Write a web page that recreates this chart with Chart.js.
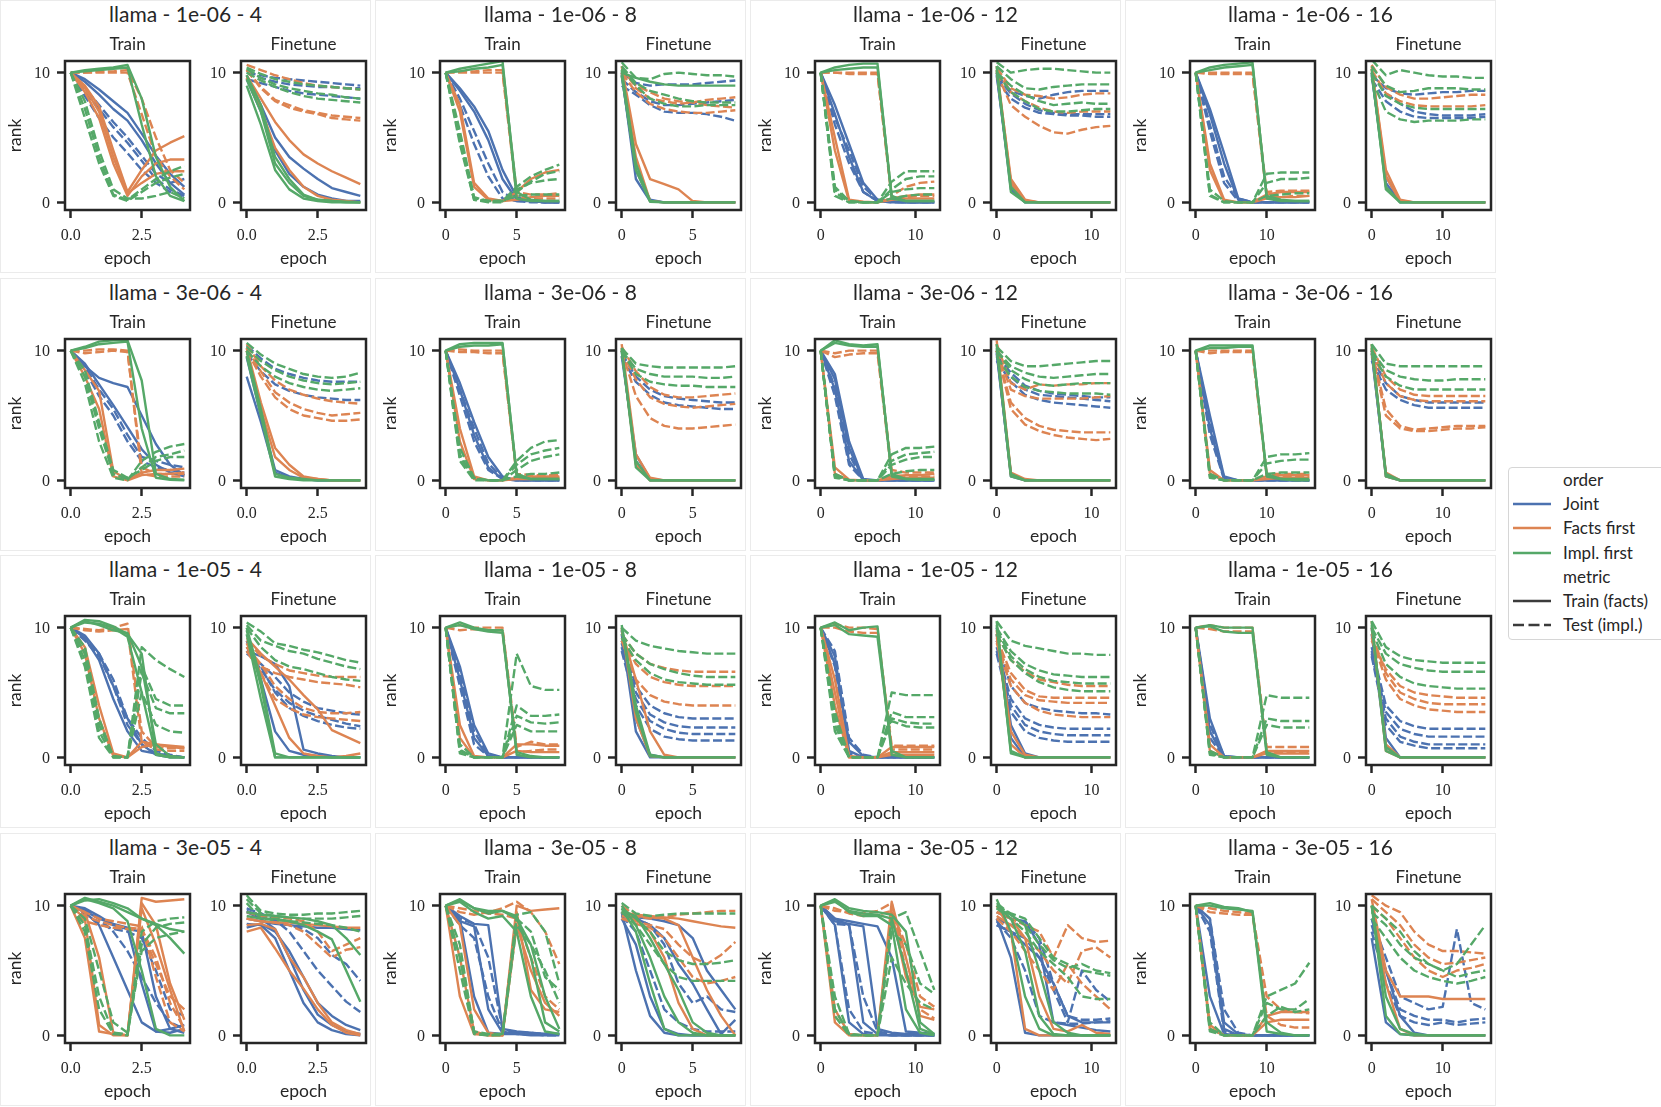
<!DOCTYPE html>
<html>
<head>
<meta charset="utf-8">
<title>llama rank curves</title>
<script src="https://cdn.jsdelivr.net/npm/chart.js@4.4.1/dist/chart.umd.min.js"></script>
<style>
  body { margin: 0; background: #fff; }
  #fig { position: relative; width: 1661px; height: 1107px; overflow: hidden; font-family: Lato, 'Noto Sans', sans-serif; color: #262626; }
  .panel { position: absolute; width: 371px; height: 273px; border: 1px solid #ebebeb; box-sizing: border-box; }
  .ptitle { position: absolute; width: 371px; text-align: center; font-size: 21px; line-height: 28px; }
  canvas { position: absolute; }
  #legend { position: absolute; left: 1508px; top: 467px; width: 170px; height: 173px; border: 1px solid #d6d6d6; border-radius: 4px; box-sizing: border-box; background: #fff; }
  .lrow { position: absolute; left: 0; height: 22px; font-size: 17px; line-height: 22px; white-space: nowrap; }
  .lrow svg { position: absolute; left: 4px; top: 8px; }
  .lrow span { position: absolute; left: 54px; }
</style>
</head>
<body>
<div id="fig"></div>
<script>
const model = 'llama';
const learningRates = ['1e-06', '3e-06', '1e-05', '3e-05'];
const epochCounts = [4, 8, 12, 16];
const orders = ['Joint', 'Facts first', 'Impl. first'];
const metrics = ['Train (facts)', 'Test (impl.)'];
const phases = ['Train', 'Finetune'];

const xTicks4 = [0, 2.5];
const xTicks8 = [0, 5];
const xTicks12 = [0, 10];
const xTicks16 = [0, 10];
const yTickVals = [0, 10];

// each run is evaluated 9 times, at step k * epochs / 8
const evalSteps = [0, 1, 2, 3, 4, 5, 6, 7, 8];

// rank per run, grouped as
// [Joint train, Joint test, Facts first train, Facts first test, Impl. first train, Impl. first test]
const tr_1e06_4 = [
  [[10,9.5,8.7,7.8,6.9,5.3,3.6,2.2,1.2],[10,9.3,8.3,7.2,6.3,4.8,3.0,1.5,0.6]],
  [[10,8.5,7.2,5.8,4.6,3.2,1.8,1.0,0.5],[10,8.2,6.5,5.0,3.8,2.5,1.5,0.8,0.4],[10,8.8,7.5,6.2,5.0,3.6,2.2,1.5,1.8]],
  [[10,9.0,7.4,4.0,0.8,2.5,4.0,4.6,5.1],[10,8.5,6.5,3.0,0.5,2.0,3.0,3.3,3.3],[10,8.8,7.0,3.5,0.7,1.5,2.2,2.4,2.4]],
  [[10,10,10.1,10.1,10.2,8.0,5.0,2.5,1.5],[10,10,10,10,10,6.8,3.5,2.0,1.0]],
  [[10,10.2,10.3,10.4,10.6,8.0,3.5,1.2,0.1],[10,10.1,10.2,10.3,10.4,6.0,2.0,0.5,0.1]],
  [[10,7.2,3.5,0.6,0.2,1.0,1.8,2.4,2.8],[10,6.5,3.0,0.5,0.1,0.8,1.5,1.9,2.2],[10,7.8,4.0,1.0,0.3,0.3,0.5,0.8,0.3]]
];
const ft_1e06_4 = [
  [[9.8,7.5,5.0,3.5,2.6,1.8,1.1,0.8,0.5],[9.5,7.0,4.0,2.2,1.2,0.6,0.3,0.1,0.1]],
  [[10,9.8,9.6,9.5,9.4,9.3,9.2,9.1,9.0],[9.5,9.2,8.9,8.6,8.4,8.3,8.2,8.1,8.0],[10.2,9.6,9.3,9.1,9.0,8.9,8.9,8.8,8.8]],
  [[9.8,8.0,6.2,4.8,3.7,3.0,2.4,1.9,1.4],[9.6,7.2,4.2,2.5,1.2,0.5,0.2,0.1,0]],
  [[10.6,10.2,9.8,9.5,9.2,9.0,8.9,8.8,8.7],[10.2,8.8,7.8,7.3,7.0,6.8,6.5,6.4,6.3],[10.2,8.9,7.9,7.5,7.1,6.9,6.7,6.6,6.5]],
  [[9.5,7.0,3.0,1.5,0.5,0.2,0.1,0.05,0],[9.0,6.0,2.5,1.0,0.3,0.1,0,0,0],[9.8,7.5,3.5,1.8,0.6,0.2,0.1,0,0]],
  [[10.3,9.6,9.1,8.8,8.6,8.4,8.3,8.1,8.0],[10,9.4,8.9,8.5,8.2,8.0,7.9,7.8,7.7],[10.4,9.9,9.5,9.3,9.1,9.0,8.9,8.8,8.7]]
];
const tr_1e06_8 = [
  [[10,8.6,7.0,4.8,1.8,0.2,0.1,0,0],[10,8.8,7.4,5.5,2.5,0.4,0.1,0,0]],
  [[10,7.5,4.5,2.0,0.3,0.1,0.1,0,0],[10,8.0,5.5,3.0,0.8,0.1,0,0,0]],
  [[10,7.0,1.2,0.2,0.1,0.8,1.8,2.3,2.5],[10,7.5,1.5,0.3,0.1,0.2,0.4,0.5,0.5]],
  [[10,10,10,10,10,0.5,0.3,0.3,0.3],[10,10.1,10.1,10.2,10.2,0.8,0.6,0.6,0.7]],
  [[10,10.3,10.5,10.7,10.9,0.3,0.1,0.1,0.1],[10,10.1,10.3,10.4,10.6,0.8,0.2,0.1,0.1]],
  [[10,5.0,0.3,0.1,0.1,1.2,2.0,2.5,2.9],[10,4.5,0.2,0,0,1.0,1.5,1.7,1.8],[10,5.5,0.4,0.1,0.1,0.5,0.6,0.6,0.6],[10,4.8,0.2,0.1,0.1,0.8,1.6,2.2,2.4]]
];
const ft_1e06_8 = [
  [[10,1.8,0.1,0,0,0,0,0,0],[9.8,2.5,0.2,0,0,0,0,0,0]],
  [[10,9.2,9.0,9.1,9.1,9.1,9.2,9.3,9.4],[9.0,8.3,7.5,7.0,6.9,6.9,6.8,6.6,6.3],[9.5,8.5,7.8,7.5,7.5,7.6,7.7,7.8,7.9]],
  [[10.5,4.5,1.8,1.4,1.0,0.1,0,0,0],[10,3.5,0.1,0,0,0,0,0,0]],
  [[10.5,8.8,8.0,7.8,7.6,7.7,7.9,8.0,8.1],[10,8.5,7.6,7.2,7.0,6.9,6.9,7.0,7.1],[10.2,9.0,8.5,8.0,7.8,7.7,7.5,7.4,7.3]],
  [[10.2,3.0,0.1,0,0,0,0,0,0],[9.8,2.5,0.05,0,0,0,0,0,0],[10,9.6,9.3,9.1,9.0,9.0,9.0,9.0,9.0]],
  [[10.8,9.6,9.5,9.9,10.0,9.9,9.8,9.8,9.7],[10.3,9.0,8.0,7.6,7.4,7.4,7.5,7.5,7.5],[10.5,9.2,8.6,8.3,8.0,7.8,7.7,7.7,7.7]]
];
const tr_1e06_12 = [
  [[10,7.5,4.5,1.5,0.2,0.1,0,0,0],[10,6.8,3.5,0.8,0.1,0,0,0,0]],
  [[10,6.0,3.0,0.8,0.1,0,0,0,0],[10,6.5,4.0,1.2,0.2,0.05,0,0,0]],
  [[10,5.0,0.2,0.05,0,0.3,0.5,0.6,0.6],[10,4.0,0.1,0,0,0.2,0.3,0.3,0.3]],
  [[10,10,10,10,10,0.5,1.2,1.5,1.6],[10,10,9.9,9.9,9.9,0.3,0.4,0.5,0.5]],
  [[10,10.4,10.6,10.7,10.7,0.3,0.1,0.1,0.1],[10,10.2,10.3,10.4,10.4,0.5,0.1,0.1,0.1]],
  [[10,0.8,0,0,0,1.6,2.4,2.4,2.4],[10,1.2,0.1,0,0,1.0,1.8,2.0,2.0],[10,0.5,0,0,0,0.8,1.0,1.1,1.1],[10,1.0,0.1,0,0,0.3,0.5,0.6,0.6]]
];
const ft_1e06_12 = [
  [[10,1.0,0,0,0,0,0,0,0],[9.8,1.5,0.1,0,0,0,0,0,0]],
  [[9.8,8.6,8.2,8.0,8.3,8.5,8.6,8.6,8.6],[9.5,8.0,7.3,6.9,6.8,6.7,6.7,6.6,6.6],[9.7,8.4,7.6,7.1,6.9,6.8,6.8,6.8,6.8]],
  [[10.5,1.5,0.1,0,0,0,0,0,0],[10.2,1.8,0.2,0,0,0,0,0,0]],
  [[10.4,8.8,8.3,8.2,8.0,8.1,8.3,8.4,8.4],[10.2,8.5,7.8,7.3,7.0,6.9,7.0,7.0,7.0],[10,7.5,6.6,5.9,5.4,5.3,5.6,5.8,5.9]],
  [[10.2,1.2,0,0,0,0,0,0,0],[10.5,0.8,0,0,0,0,0,0,0]],
  [[10.8,10.0,10.2,10.3,10.3,10.2,10.1,10.0,10.0],[10.5,9.5,8.8,8.7,8.9,9.0,9.1,9.1,9.1],[10,9.0,8.3,7.8,7.5,7.6,7.7,7.6,7.6],[10,8.5,7.8,7.2,7.0,7.0,7.1,7.2,7.2]]
];
const tr_1e06_16 = [
  [[10,7.2,3.8,0.3,0,0,0,0,0],[10,6.8,3.0,0.2,0,0,0,0,0]],
  [[10,6.0,2.0,0.3,0,0,0,0,0],[10,5.5,1.5,0.1,0,0,0,0,0]],
  [[10,3.0,0.2,0,0,0.6,0.8,0.8,0.8],[10,2.5,0.1,0,0,0.3,0.4,0.4,0.5]],
  [[10,10,10,10,10,0.8,0.9,0.9,0.9],[10,9.9,9.9,9.9,9.9,0.4,0.4,0.5,0.5]],
  [[10,10.4,10.6,10.7,10.8,0.3,0.1,0.1,0.1],[10,10.2,10.4,10.5,10.6,0.5,0.2,0.1,0.1]],
  [[10,0.5,0,0,0,2.2,2.3,2.3,2.3],[10,1.0,0.1,0,0,1.5,1.8,1.8,1.9],[10,0.6,0,0,0,0.5,0.6,0.7,0.7]]
];
const ft_1e06_16 = [
  [[10,1.5,0,0,0,0,0,0,0],[9.8,2.0,0.1,0,0,0,0,0,0]],
  [[10,8.4,7.6,7.0,6.8,6.7,6.7,6.7,6.8],[9.8,8.8,8.4,8.3,8.4,8.5,8.5,8.6,8.6],[9.5,7.8,7.0,6.6,6.5,6.5,6.5,6.5,6.6]],
  [[10.5,2.0,0.1,0,0,0,0,0,0],[10.3,2.5,0.2,0,0,0,0,0,0]],
  [[10.6,8.9,8.3,8.0,8.0,8.1,8.2,8.3,8.3],[10.2,8.4,7.8,7.5,7.4,7.4,7.4,7.4,7.5]],
  [[10.3,1.0,0,0,0,0,0,0,0],[10,1.2,0,0,0,0,0,0,0]],
  [[11,9.8,10.2,10.0,9.8,9.7,9.7,9.6,9.6],[10.5,9.0,8.5,8.6,8.8,8.8,8.8,8.7,8.7],[10,8.2,7.6,7.3,7.2,7.2,7.2,7.2,7.2],[9.5,7.0,6.4,6.2,6.3,6.3,6.3,6.4,6.4]]
];

const tr_3e06_4 = [
  [[10,8.8,7.9,7.5,7.2,5.0,2.8,1.2,0.4],[10,9.0,7.4,5.8,4.1,2.4,1.2,0.6,0.3]],
  [[10,8.8,7.0,5.5,3.5,1.8,1.5,1.2,1.0],[10,8.5,6.5,5.0,3.0,1.5,1.0,0.8,0.6]],
  [[10,8.5,6.9,0.7,0.05,0.6,0.8,0.8,0.9],[10,8.0,5.5,0.3,0,0.4,0.5,0.5,0.6]],
  [[10,10,10.1,10.1,10,0.5,0.3,0.3,0.3],[10,9.8,9.9,10,9.9,1.0,0.5,0.5,0.5]],
  [[10,10.3,10.7,10.8,10.8,7.7,0.5,0.1,0.05],[10,10.2,10.5,10.6,10.7,4.0,0.2,0.05,0]],
  [[10,7.5,3.0,0.2,0,1.5,2.2,2.6,2.8],[10,8.0,4.0,0.5,0.1,1.0,1.8,2.0,2.3],[10,8.5,4.5,0.8,0.2,0.8,1.5,1.8,1.8]]
];
const ft_3e06_4 = [
  [[8.0,4.5,0.6,0.2,0.1,0,0,0,0],[9.5,5.0,0.8,0.3,0.1,0,0,0,0]],
  [[10.4,9.4,8.6,8.2,7.9,7.7,7.6,7.6,7.6],[9.8,8.4,7.4,6.9,6.6,6.4,6.3,6.2,6.2]],
  [[10.2,6.0,2.5,1.2,0.3,0.1,0,0,0],[10,5.5,1.8,0.8,0.2,0.1,0,0,0]],
  [[10.5,8.8,7.7,7.0,6.6,6.3,6.1,6.0,5.9],[10.2,8.4,6.8,6.0,5.5,5.2,5.0,5.1,5.2],[10,8.0,6.4,5.5,5.0,4.8,4.6,4.6,4.7]],
  [[10,5.5,0.5,0.2,0.1,0,0,0,0],[9.6,5.0,0.3,0.1,0,0,0,0,0]],
  [[10.6,9.7,9.0,8.6,8.2,8.0,7.9,8.0,8.3],[10.3,9.2,8.5,8.0,7.7,7.5,7.4,7.5,7.6],[10,8.8,8.0,7.5,7.2,7.0,6.9,7.0,7.1]]
];
const tr_3e06_8 = [
  [[10,7.0,3.5,1.0,0.1,0,0,0,0],[10,7.5,4.5,1.8,0.3,0,0,0,0]],
  [[10,6.5,3.0,0.8,0.1,0,0,0,0],[10,7.0,4.0,1.3,0.2,0,0,0,0]],
  [[10,3.0,0.1,0,0,0.2,0.3,0.3,0.3],[10,4.0,0.3,0,0,0.1,0.1,0.2,0.2]],
  [[10,10.1,10,10,10,0.3,0.2,0.2,0.2],[10,9.9,9.9,9.8,9.8,0.5,0.4,0.4,0.4]],
  [[10,10.5,10.6,10.6,10.6,0.3,0.1,0.1,0.1],[10,10.3,10.4,10.4,10.5,0.5,0.1,0.1,0.1]],
  [[10,2.0,0.1,0,0,1.5,2.5,3.0,3.1],[10,2.5,0.2,0,0,1.2,2.0,2.3,2.5],[10,1.5,0,0,0,0.8,1.5,1.8,2.0],[10,1.8,0.1,0,0,0.3,0.5,0.5,0.6]]
];
const ft_3e06_8 = [
  [[10,1.5,0,0,0,0,0,0,0],[9.6,2.0,0.1,0,0,0,0,0,0]],
  [[9.8,8.0,7.0,6.5,6.3,6.2,6.1,6.0,6.0],[9.5,7.6,6.6,6.0,5.8,5.7,5.6,5.5,5.5]],
  [[10.5,2.0,0.2,0,0,0,0,0,0],[10.2,1.2,0,0,0,0,0,0,0]],
  [[10.3,8.4,7.2,6.6,6.4,6.4,6.5,6.6,6.7],[10,7.8,6.4,5.9,5.7,5.6,5.7,5.8,5.9],[10,6.5,4.8,4.2,4.0,4.0,4.1,4.2,4.3]],
  [[10.2,1.0,0,0,0,0,0,0,0],[10,1.5,0,0,0,0,0,0,0]],
  [[10.2,9.0,8.8,8.7,8.7,8.7,8.7,8.7,8.8],[10,8.6,8.2,8.0,8.0,8.0,7.9,7.9,8.0],[10,8.2,7.6,7.4,7.3,7.3,7.2,7.2,7.2]]
];
const tr_3e06_12 = [
  [[10,7.8,2.5,0,0,0,0,0,0],[10,7.0,1.5,0,0,0,0,0,0],[10,8.2,3.0,0.1,0,0,0,0,0]],
  [[10,6.5,1.2,0,0,0,0,0,0],[10,7.2,2.0,0,0,0,0,0,0]],
  [[10,0.5,0,0,0,0.3,0.4,0.4,0.5],[10,1.0,0.05,0,0,0.1,0.2,0.2,0.2]],
  [[10,9.8,10,10,10,0.8,0.6,0.6,0.6],[10,9.5,9.7,9.8,9.8,0.4,0.3,0.3,0.3]],
  [[10,10.8,10.5,10.4,10.5,0.3,0.1,0.1,0.1],[10,10.6,10.4,10.3,10.3,0.5,0.1,0.05,0.05]],
  [[10,0.2,0,0,0,2.0,2.5,2.5,2.6],[10,0.5,0,0,0,1.5,2.0,2.1,2.2],[10,0.3,0,0,0,1.2,1.6,1.8,1.8],[10,0.4,0,0,0,0.5,0.7,0.8,0.8]]
];
const ft_3e06_12 = [
  [[10,0.3,0,0,0,0,0,0,0],[9.8,0.5,0,0,0,0,0,0,0]],
  [[9.5,8.0,7.0,6.6,6.5,6.4,6.3,6.2,6.1],[9.2,7.6,6.6,6.2,6.0,5.9,5.8,5.7,5.6],[9.6,8.3,7.3,6.9,6.7,6.6,6.5,6.4,6.4]],
  [[10.8,0.6,0.1,0,0,0,0,0,0],[10.5,0.4,0,0,0,0,0,0,0]],
  [[10.5,7.5,7.0,7.4,7.3,7.4,7.4,7.5,7.5],[10,7.0,6.5,6.3,6.3,6.3,6.3,6.4,6.5],[10,6.0,4.8,4.2,3.9,3.8,3.7,3.7,3.7],[10,5.5,4.3,3.8,3.5,3.3,3.2,3.1,3.2]],
  [[10.5,0.5,0,0,0,0,0,0,0],[10.2,0.3,0,0,0,0,0,0,0]],
  [[10.3,9.2,8.8,8.8,8.9,9.0,9.1,9.2,9.2],[10,8.8,8.3,8.0,7.9,8.0,8.1,8.2,8.2],[10,8.5,7.8,7.4,7.3,7.4,7.5,7.5,7.5],[9.5,8.0,7.2,6.9,6.8,6.7,6.7,6.7,6.6]]
];
const tr_3e06_16 = [
  [[10,4.0,0.1,0,0,0,0,0,0],[10,5.0,0.3,0,0,0,0,0,0]],
  [[10,3.5,0.1,0,0,0,0,0,0],[10,4.5,0.2,0,0,0,0,0,0]],
  [[10,0.5,0,0,0,0.3,0.4,0.4,0.4],[10,0.8,0,0,0,0.1,0.2,0.2,0.2]],
  [[10,10,10,10,10,0.5,0.5,0.5,0.5],[10,9.8,9.9,9.9,9.9,0.3,0.3,0.3,0.3]],
  [[10,10.4,10.4,10.4,10.4,0.3,0.1,0.1,0.1],[10,10.2,10.2,10.3,10.3,0.5,0.1,0,0]],
  [[10,0.3,0,0,0,1.8,2.0,2.0,2.1],[10,0.5,0,0,0,1.3,1.5,1.6,1.6],[10,0.2,0,0,0,0.5,0.6,0.6,0.6]]
];
const ft_3e06_16 = [
  [[10,0.3,0,0,0,0,0,0,0],[9.8,0.5,0,0,0,0,0,0,0]],
  [[9.5,7.5,6.5,6.2,6.0,6.0,6.0,6.0,6.0],[9.2,7.0,6.2,5.8,5.6,5.6,5.6,5.6,5.6]],
  [[10.5,0.3,0,0,0,0,0,0,0],[10.2,0.6,0,0,0,0,0,0,0]],
  [[10.3,8.0,7.0,6.6,6.5,6.5,6.5,6.5,6.5],[10,7.5,6.5,6.2,6.1,6.1,6.1,6.1,6.1],[10,5.5,4.2,3.9,4.0,4.1,4.2,4.2,4.2],[9.8,5.0,4.0,3.8,3.8,3.9,4.0,4.0,4.1]],
  [[10.5,0.3,0,0,0,0,0,0,0],[10.2,0.5,0,0,0,0,0,0,0]],
  [[10.5,9.0,8.8,8.8,8.8,8.8,8.8,8.8,8.8],[10,8.5,8.0,7.8,7.7,7.7,7.8,7.8,7.8],[9.8,8.0,7.3,7.0,7.0,7.0,7.0,7.0,7.0]]
];

const tr_1e05_4 = [
  [[10,9.4,8.0,5.5,3.0,1.0,0.2,0,0],[10,9.2,7.5,4.5,2.0,0.5,0.3,0.1,0]],
  [[10,9.0,7.8,5.5,2.5,1.0,0.3,0.1,0],[10,9.2,8.0,6.0,3.0,1.5,0.5,0.2,0]],
  [[10,8.5,4.0,0.3,0,0.8,1.0,0.9,0.8],[10,8.0,3.0,0.1,0,1.2,1.0,0.8,0.7]],
  [[10,9.9,9.8,10.0,10.3,2.0,0.8,0.7,0.7],[10,9.8,9.7,9.8,9.9,1.2,0.6,0.5,0.5]],
  [[10,10.6,10.5,10.1,9.5,8.0,0.3,0,0],[10,10.4,10.3,10.0,9.3,5.0,0.2,0,0],[10,10.5,10.2,9.8,9.6,7.0,1.0,0.1,0]],
  [[10,8.5,3.0,0,0,8.5,7.5,6.8,6.2],[10,8.0,2.5,0.1,0,7.0,4.5,4.0,4.0],[10,7.5,2.0,0,0,6.5,3.8,3.4,3.4],[10,7.0,1.5,0,0,5.0,2.5,2.0,1.9]]
];
const ft_1e05_4 = [
  [[8.2,7.8,7.2,5.5,0.6,0.3,0.1,0,0],[9.0,6.0,2.0,0.5,0.2,0.1,0,0,0]],
  [[8.0,7.2,6.2,5.0,4.3,3.8,3.6,3.4,3.3],[8.2,6.8,5.2,4.2,3.6,3.2,2.9,2.6,2.4],[8.5,7.0,5.0,3.8,3.2,2.8,2.5,2.3,2.2]],
  [[9.2,8.0,7.0,6.0,4.8,3.7,2.1,1.6,1.1],[8.8,6.5,4.0,1.5,0.3,0.1,0,0.1,0.3]],
  [[9.0,7.8,7.2,6.7,6.5,6.3,6.2,6.2,6.2],[8.5,7.0,6.5,6.2,6.0,5.8,5.7,5.6,5.4],[8.5,7.2,5.5,4.5,3.8,3.5,3.4,3.4,3.5],[8.2,6.5,4.5,3.8,3.3,3.1,3.0,2.9,2.8]],
  [[9.8,5.5,0,0,0,0,0,0,0],[9.5,4.5,0,0,0,0,0,0,0],[10,6.0,0.3,0,0,0,0,0,0]],
  [[10.4,9.7,8.8,8.6,8.3,8.1,7.8,7.5,7.3],[10.2,9.0,8.6,8.2,8.0,7.6,7.3,7.0,6.8],[10,8.5,7.5,7.0,6.8,6.5,6.2,6.0,5.9]]
];
const tr_1e05_8 = [
  [[10,6.0,1.5,0.1,0,0,0,0,0],[10,7.0,2.5,0.3,0,0,0,0,0]],
  [[10,5.5,1.0,0.1,0,0,0,0,0],[10,6.5,2.0,0.2,0,0,0,0,0]],
  [[10,1.5,0,0,0,1.0,1.0,0.9,0.9],[10,2.5,0.1,0,0,0.5,0.4,0.4,0.4]],
  [[10,10.2,10,10,10,0.8,1.2,1.0,1.0],[10,9.8,9.9,9.8,9.8,0.4,0.5,0.6,0.6]],
  [[10,10.4,10,9.8,9.8,0.2,0,0,0],[10,10.2,9.9,9.7,9.6,0.4,0.1,0,0]],
  [[10,0.5,0,0,0,8.0,5.5,5.2,5.2],[10,1.0,0,0,0,4.0,3.2,3.2,3.3],[10,0.3,0,0,0,3.2,2.7,2.6,2.7],[10,0.6,0,0,0,2.5,2.0,2.0,2.0]]
];
const ft_1e05_8 = [
  [[9.5,2.0,0,0,0,0,0,0,0],[9.8,3.0,0.2,0,0,0,0,0,0]],
  [[9.0,5.5,4.0,3.4,3.1,3.0,3.0,3.0,3.0],[8.8,5.0,3.3,2.7,2.4,2.3,2.3,2.3,2.3],[8.5,4.5,2.8,2.2,1.9,1.8,1.8,1.8,1.8],[8.2,4.0,2.2,1.6,1.4,1.3,1.3,1.3,1.3]],
  [[10,3.0,0.1,0,0,0,0,0,0],[9.8,6.0,2.0,0.2,0,0,0,0,0]],
  [[9.5,8.0,7.2,6.9,6.7,6.6,6.6,6.6,6.6],[9.2,7.2,6.2,5.8,5.6,5.5,5.5,5.5,5.5],[9.0,6.0,4.8,4.3,4.1,4.0,4.0,4.0,4.0]],
  [[10.2,4.0,0.2,0,0,0,0,0,0],[10,3.5,0.1,0,0,0,0,0,0]],
  [[10,9.0,8.6,8.4,8.2,8.1,8.0,8.0,8.0],[9.5,8.0,7.2,6.8,6.5,6.3,6.2,6.2,6.2],[9.2,7.5,6.5,6.0,5.8,5.7,5.6,5.6,5.6]]
];
const tr_1e05_12 = [
  [[10,7.8,0.5,0,0,0,0,0,0],[10,7.2,1.2,0.1,0,0,0,0,0]],
  [[10,7.0,0.3,0,0,0,0,0,0],[10,8.2,1.5,0.2,0,0,0,0,0]],
  [[10,5.0,0,0,0,0.8,0.8,0.8,0.8],[10,4.0,0,0,0,0.4,0.4,0.4,0.4],[10,6.0,0.1,0,0,0.2,0.2,0.2,0.2]],
  [[10,10.3,10.0,10.0,9.9,0.6,0.6,0.6,0.6],[10,10.0,9.7,9.6,9.6,0.9,0.9,0.9,0.9]],
  [[10,10.4,9.8,10.0,10.1,0.2,0,0,0],[10,10.2,9.5,9.4,9.3,0.5,0,0,0]],
  [[10,3.0,0,0,0,5.0,4.8,4.8,4.8],[10,2.5,0,0,0,3.5,3.1,3.1,3.1],[10,2.0,0,0,0,3.0,2.7,2.6,2.6],[10,3.5,0,0,0,2.8,2.4,2.3,2.3]]
];
const ft_1e05_12 = [
  [[10,2.5,0.3,0,0,0,0,0,0],[9.5,1.5,0,0,0,0,0,0,0]],
  [[9.0,5.5,4.2,3.8,3.6,3.5,3.4,3.4,3.3],[8.5,4.5,3.0,2.5,2.3,2.2,2.2,2.2,2.2],[8.2,4.0,2.5,2.0,1.8,1.7,1.7,1.7,1.7],[8.0,3.5,2.0,1.5,1.3,1.2,1.2,1.2,1.2]],
  [[9.8,2.0,0.2,0,0,0,0,0,0],[9.5,1.0,0,0,0,0,0,0,0]],
  [[9.5,7.5,6.6,6.0,5.8,5.6,5.5,5.5,5.5],[9.2,6.5,5.2,4.7,4.6,4.6,4.6,4.6,4.6],[9.0,6.0,4.8,4.4,4.3,4.2,4.2,4.2,4.2],[8.8,5.5,4.2,3.6,3.3,3.2,3.1,3.1,3.1]],
  [[10.5,0.3,0,0,0,0,0,0,0],[10.2,0.5,0,0,0,0,0,0,0]],
  [[10.5,9.0,8.6,8.4,8.2,8.0,8.0,7.9,7.9],[10,8.2,7.2,6.7,6.4,6.3,6.2,6.2,6.2],[9.8,7.8,6.8,6.2,5.9,5.8,5.7,5.7,5.7],[9.5,7.5,6.5,5.8,5.4,5.2,5.1,5.1,5.1]]
];
const tr_1e05_16 = [
  [[10,2.0,0,0,0,0,0,0,0],[10,3.0,0.1,0,0,0,0,0,0]],
  [[10,1.5,0,0,0,0,0,0,0],[10,2.5,0.1,0,0,0,0,0,0]],
  [[10,0.5,0,0,0,0.5,0.5,0.5,0.5],[10,1.0,0,0,0,0.3,0.3,0.3,0.3]],
  [[10,10.2,10,10,10,0.8,0.8,0.8,0.8],[10,9.9,9.7,9.7,9.7,0.4,0.4,0.4,0.4]],
  [[10,10.2,10.0,10.0,10.0,0.2,0,0,0],[10,10.1,9.7,9.6,9.6,0.4,0,0,0]],
  [[10,0.3,0,0,0,4.8,4.6,4.6,4.6],[10,0.5,0,0,0,3.0,2.8,2.8,2.8],[10,0.2,0,0,0,2.5,2.3,2.3,2.3]]
];
const ft_1e05_16 = [
  [[10,1.5,0,0,0,0,0,0,0],[9.5,0.8,0,0,0,0,0,0,0]],
  [[8.5,4.0,2.8,2.4,2.2,2.2,2.2,2.2,2.2],[8.2,3.5,2.2,1.8,1.6,1.6,1.6,1.6,1.6],[8.0,3.0,1.6,1.2,1.0,1.0,1.0,1.0,1.0],[7.8,2.5,1.2,0.9,0.7,0.7,0.7,0.7,0.7]],
  [[10.5,0.5,0,0,0,0,0,0,0],[10,1.0,0,0,0,0,0,0,0]],
  [[9.5,6.5,5.0,4.5,4.2,4.1,4.1,4.1,4.1],[9.2,6.0,4.5,4.0,3.7,3.6,3.5,3.5,3.5],[9.0,6.8,5.5,5.0,4.8,4.7,4.6,4.6,4.6]],
  [[10.5,0.5,0,0,0,0,0,0,0],[10.2,0.8,0,0,0,0,0,0,0]],
  [[10.5,8.5,7.8,7.5,7.4,7.3,7.3,7.3,7.3],[10,8.0,7.2,6.9,6.7,6.6,6.6,6.6,6.6],[9.8,7.2,6.2,5.7,5.5,5.4,5.3,5.3,5.3]]
];

const tr_3e05_4 = [
  [[10,9.6,9.0,8.6,8.3,4.0,0.3,0.2,0.5],[10,9.5,8.5,6.0,3.5,1.0,0.3,0.5,0.8],[10,9.8,9.2,8.5,8.2,8.0,3.0,0.5,0.2]],
  [[10,9.7,9.0,8.0,6.5,4.5,2.5,1.0,0.5],[10,9.4,8.6,8.2,8.0,7.5,5.0,2.0,1.5]],
  [[10,9.0,0.8,0,0,10.6,10.3,10.4,10.5],[10,7.5,0.3,0.1,0,10.2,8.5,4.0,1.2],[10,9.5,6.0,0.2,0,9.8,7.0,3.5,0.3]],
  [[10,9.2,8.8,8.5,8.3,8.2,6.0,2.5,0.5],[10,9.5,9.0,8.8,8.6,8.4,4.5,1.0,0.3],[10,8.8,8.5,8.3,8.2,8.0,5.5,3.0,2.0]],
  [[10,10.6,10.3,10.0,9.5,9.0,8.5,7.5,6.3],[10,10.4,10.5,10.2,9.8,9.0,8.6,8.2,8.0],[10,10.5,10.2,9.8,8.8,5.0,0.5,0,0]],
  [[10,8.5,3.0,0.2,0.1,8.0,8.8,9.0,9.1],[10,8.0,2.0,0.1,0,7.0,8.3,8.6,8.7],[10,9.0,5.0,1.0,0.2,6.5,7.5,7.8,8.0]]
];
const ft_3e05_4 = [
  [[9.5,9.0,8.2,6.0,3.5,1.6,0.8,0.3,0.1],[8.6,8.5,7.5,5.0,2.5,1.0,0.4,0.1,0],[8.3,8.6,8.0,6.5,4.5,2.5,1.5,0.8,0.4],[9.0,8.8,8.6,8.5,8.4,8.3,8.3,8.2,8.1]],
  [[9.8,9.4,8.9,8.0,6.5,5.0,3.8,2.6,1.8],[9.6,9.2,8.8,8.5,8.2,7.5,6.2,5.5,4.2]],
  [[8.0,8.3,6.7,5.0,3.6,2.0,0.8,0.2,0],[8.5,8.6,8.2,6.0,4.5,2.5,1.0,0.4,0.1],[9.0,8.8,8.7,8.7,8.6,8.5,8.4,8.3,8.3]],
  [[9.5,9.2,9.1,9.0,8.8,8.0,6.5,7.0,7.5],[9.0,8.8,8.7,8.5,8.0,7.0,6.0,6.6,6.8]],
  [[9.2,9.0,9.0,8.8,8.5,8.0,7.4,5.0,2.6],[9.5,9.3,9.2,9.1,9.0,8.8,8.5,7.5,6.2]],
  [[10.8,9.6,9.4,9.3,9.3,9.4,9.4,9.5,9.6],[10.5,9.4,9.2,9.1,9.0,9.0,9.0,9.1,9.2],[10.2,9.0,8.9,8.8,8.7,8.6,8.5,8.3,8.0]]
];
const tr_3e05_8 = [
  [[10,9.2,8.6,8.5,0.5,0.3,0.2,0.1,0.1],[10,8.8,8.4,2.0,0.2,0.2,0.1,0.1,0.1],[10,9.0,3.0,0.2,0.1,0.1,0,0,0]],
  [[10,9.0,8.6,6.0,0.5,0.2,0.2,0.1,0.1],[10,8.5,7.5,3.0,0.3,0.1,0.1,0,0]],
  [[10,3.0,0.1,0,0,10.0,9.6,9.7,9.8],[10,6.0,0.3,0,0,9.5,3.5,2.0,1.8],[10,8.5,2.0,0.2,0,8.5,5.0,2.5,1.5]],
  [[10,9.5,9.3,9.5,9.8,10.3,9.5,8.0,5.5],[10,9.8,9.6,9.4,9.3,9.0,6.0,3.0,2.0]],
  [[10,10.5,9.8,9.4,9.6,9.2,6.0,1.0,0.3],[10,10.3,9.5,9.0,9.2,8.0,3.0,0.3,0.1],[10,10.4,9.8,9.6,9.6,9.0,7.0,3.0,0.5]],
  [[10,7.0,0.2,0,0.1,9.3,9.5,8.0,4.0],[10,5.0,0.1,0,0,8.5,7.0,5.0,2.5],[10,6.0,0.3,0.1,0.1,9.0,8.0,4.5,3.5]]
];
const ft_3e05_8 = [
  [[9.5,5.0,1.5,0.2,0,0,0,0,0],[9.0,7.0,3.0,0.5,0.1,0,0,0,0],[9.3,9.0,8.5,7.5,5.5,4.0,2.0,0.1,1.2],[9.2,9.1,9.0,8.8,8.5,7.5,5.0,3.5,2.0]],
  [[9.2,8.0,5.0,2.0,1.0,0.5,0.3,0.3,0.3],[9.5,9.0,8.5,7.0,4.0,2.5,3.0,2.0,1.8]],
  [[9.0,9.0,8.0,6.0,2.5,0.5,0,0,0],[9.2,9.2,9.1,9.0,8.5,6.0,3.5,1.5,0],[9.5,9.3,9.2,9.1,9.0,8.8,8.6,8.4,8.3]],
  [[10,9.2,9.0,9.1,9.3,9.4,9.5,9.6,9.6],[9.5,8.8,8.5,8.2,7.0,6.0,5.5,6.2,7.2],[9.0,8.6,8.3,7.5,6.0,4.5,4.0,4.2,4.5]],
  [[9.8,8.0,4.0,0.5,0,0,0,0,0],[10,8.5,6.0,3.0,1.0,0.2,0,0,0],[9.6,9.2,7.5,5.5,3.5,1.0,0.2,0,0]],
  [[10.2,9.4,9.2,9.3,9.4,9.4,9.4,9.4,9.4],[9.8,9.0,8.0,6.5,5.8,5.5,5.5,5.6,5.8],[9.5,8.5,7.0,5.5,4.5,4.2,4.2,4.2,4.2]]
];
const tr_3e05_12 = [
  [[10,9.0,8.5,1.0,0.1,0,0,0,0],[10,8.8,8.6,8.4,0.5,0.2,0.1,0.1,0],[10,9.0,8.8,8.6,8.4,6.0,0.3,0.2,0.1],[10,8.5,1.0,0.1,0,0,0,0,0]],
  [[10,8.5,2.0,0.3,0.1,0,0,0,0],[10,8.6,8.5,3.0,0.3,0.1,0,0,0]],
  [[10,1.0,0,0,0,10.3,6.0,1.5,1.2],[10,2.0,0.1,0,0,9.5,4.5,2.2,2.0]],
  [[10,9.6,9.5,9.4,9.6,10.2,5.0,2.0,1.3],[10,9.8,9.4,9.2,9.3,9.6,7.0,3.0,2.2]],
  [[10,10.5,9.8,9.6,9.5,9.3,8.0,1.0,0.1],[10,10.3,9.6,9.4,9.3,9.0,5.0,0.5,0.1],[10,10.4,9.5,9.2,9.2,8.5,2.0,0.2,0]],
  [[10,3.0,0.1,0,0,9.0,9.5,6.5,3.5],[10,1.5,0,0,0,8.0,7.0,4.0,3.2],[10,2.0,0.1,0,0,6.0,4.0,2.5,2.0]]
];
const ft_3e05_12 = [
  [[9.0,6.0,0.2,0,0,0,0,0,0],[9.5,9.0,8.8,7.0,1.0,0.8,0.6,0.4,0.3],[8.5,8.0,7.0,6.0,4.0,1.5,1.0,1.0,1.0]],
  [[9.0,8.5,8.8,7.5,4.0,1.5,1.2,1.2,1.3],[8.5,8.0,7.5,6.0,3.5,1.0,5.0,3.5,2.6],[8.8,7.5,5.0,1.5,1.0,0.9,0.9,1.0,1.1]],
  [[10,8.0,0.5,0,0,0,0,0,0],[9.5,9.0,7.5,3.0,0.5,0.3,0.8,0.2,0.1]],
  [[9.5,9.0,8.5,8.0,6.0,8.5,7.5,7.2,7.3],[9.2,8.5,7.5,6.5,5.0,4.0,6.5,6.8,6.0],[9.0,8.0,6.5,5.0,3.5,5.5,4.0,3.0,2.0]],
  [[10.5,8.0,3.0,0.5,0,0,0,0,0],[10,9.0,6.5,1.5,0.1,0,0,0,0],[9.8,9.3,8.5,5.0,1.0,0.2,0,0,0]],
  [[10,9.4,9.0,7.5,6.0,5.5,5.0,4.8,4.6],[9.8,9.0,8.0,6.5,5.5,4.5,3.0,2.8,2.8],[10.2,9.3,8.5,7.0,5.8,5.2,5.5,5.0,4.8]]
];
const tr_3e05_16 = [
  [[10,8.5,0.5,0,0,0,0,0,0],[10,9.0,1.0,0.1,0,0,0,0,0],[10,3.0,0.1,0,0,0,0,0,0]],
  [[10,8.0,0.3,0,0,0,0,0,0],[10,9.0,2.0,0.2,0,0,0,0,0]],
  [[10,0.5,0,0,0,1.5,1.8,1.8,1.8],[10,0.8,0,0,0,1.0,1.2,1.2,1.2]],
  [[10,9.8,9.6,9.5,9.4,3.0,2.0,1.8,1.7],[10,9.5,9.4,9.3,9.3,1.5,0.8,0.6,0.6]],
  [[10,10.0,9.8,9.7,9.6,0.3,0.1,0,0],[10,10.2,9.9,9.8,9.5,1.0,0.2,0,0]],
  [[10,0.5,0,0,0,3.0,3.5,4.0,5.6],[10,1.0,0,0,0,2.5,2.0,2.0,2.8],[10,0.3,0,0,0,1.5,2.2,1.8,2.0]]
];
const ft_3e05_16 = [
  [[7.5,1.0,0.1,0,0,0,0,0,0],[9.0,5.0,1.5,0.2,0,0,0,0,0]],
  [[9.0,6.0,3.0,2.5,2.0,2.2,8.2,2.5,2.0],[8.5,5.0,2.0,1.5,1.2,1.2,1.0,1.2,1.3],[8.0,4.0,1.5,1.0,0.8,1.0,0.8,0.9,1.0]],
  [[10.5,5.0,3.0,3.0,3.0,2.8,2.8,2.8,2.8],[10,4.0,0.5,0,0,0,0,0,0]],
  [[10.5,9.5,8.5,7.0,6.0,5.5,5.6,5.8,6.0],[10,9.0,7.5,6.0,5.0,4.5,5.0,5.2,5.5],[10.8,10.0,9.5,8.0,7.0,6.5,6.5,6.4,6.3]],
  [[10,1.5,0.1,0,0,0,0,0,0],[10,3.0,0.5,0.1,0,0,0,0,0]],
  [[9.5,8.5,7.0,6.0,5.5,5.0,4.5,4.8,5.0],[10,9.0,8.0,6.5,5.5,5.0,5.5,7.0,8.5],[9.0,7.5,6.0,5.0,4.5,4.2,4.0,4.2,4.5]]
];

const runs = {
  '1e-06': [[tr_1e06_4, ft_1e06_4], [tr_1e06_8, ft_1e06_8], [tr_1e06_12, ft_1e06_12], [tr_1e06_16, ft_1e06_16]],
  '3e-06': [[tr_3e06_4, ft_3e06_4], [tr_3e06_8, ft_3e06_8], [tr_3e06_12, ft_3e06_12], [tr_3e06_16, ft_3e06_16]],
  '1e-05': [[tr_1e05_4, ft_1e05_4], [tr_1e05_8, ft_1e05_8], [tr_1e05_12, ft_1e05_12], [tr_1e05_16, ft_1e05_16]],
  '3e-05': [[tr_3e05_4, ft_3e05_4], [tr_3e05_8, ft_3e05_8], [tr_3e05_12, ft_3e05_12], [tr_3e05_16, ft_3e05_16]]
};
const xTickSets = {4: xTicks4, 8: xTicks8, 12: xTicks12, 16: xTicks16};

const colors = ['#4c72b0', '#dd8452', '#55a868'];
const ink = '#262626';
const sans = "Lato, 'Noto Sans', sans-serif";
const serif = "'Liberation Serif', 'DejaVu Serif', serif";
const dash = [9, 3.4];

const panelLeft = [0, 375, 750, 1125];
const panelTop = [0, 278, 555, 833];

// matplotlib-style closed frame around each axes
const frame = {
  id: 'frame',
  afterDatasetsDraw(chart) {
    const {ctx, chartArea: a} = chart;
    ctx.save();
    ctx.strokeStyle = ink;
    ctx.lineWidth = 2.5;
    ctx.strokeRect(a.left, a.top, a.right - a.left, a.bottom - a.top);
    ctx.restore();
  }
};

function axisGrid() {
  return {display: true, drawOnChartArea: false, drawTicks: true, tickLength: 8, tickWidth: 2.5, tickColor: ink};
}

function drawSubplot(canvas, groups, E, title, withRank) {
  const datasets = [];
  groups.forEach((group, g) => {
    const hue = Math.floor(g / 2);
    const dashed = g % 2 === 1;
    group.forEach(vals => {
      datasets.push({
        data: vals.map((v, k) => ({x: evalSteps[k] * E / 8, y: v})),
        borderColor: colors[hue],
        borderWidth: 2.4,
        borderDash: dashed ? dash : [],
        borderJoinStyle: 'round',
        pointRadius: 0,
        tension: 0
      });
    });
  });
  datasets.reverse();  // first dataset is painted last, so green ends on top

  return new Chart(canvas, {
    type: 'line',
    data: {datasets},
    options: {
      responsive: false,
      animation: false,
      devicePixelRatio: 1,
      events: [],
      layout: {padding: {left: 0, right: 10, top: 0, bottom: 0}},
      plugins: {
        legend: {display: false},
        tooltip: {enabled: false},
        title: {
          display: true, text: title, fullSize: false, color: ink,
          font: {family: sans, size: 17, weight: 'normal', lineHeight: 1.2},
          padding: {top: 13, bottom: 6.6}
        }
      },
      scales: {
        x: {
          type: 'linear', min: -0.05 * E, max: 1.05 * E,
          afterBuildTicks: s => { s.ticks = xTickSets[E].map(v => ({value: v})); },
          afterFit: s => { s.height = 62; },
          ticks: {
            color: ink, font: {family: serif, size: 16}, padding: 8, maxRotation: 0, autoSkip: false,
            callback: v => E === 4 ? v.toFixed(1) : String(v)
          },
          grid: axisGrid(),
          border: {display: false},
          title: {display: true, text: 'epoch', color: ink, font: {family: sans, size: 17.5}, padding: {top: 0, bottom: 3}}
        },
        y: {
          type: 'linear', min: -0.59, max: 10.9,
          afterBuildTicks: s => { s.ticks = yTickVals.map(v => ({value: v})); },
          afterFit: s => { s.width = 60; },
          ticks: {color: ink, font: {family: serif, size: 16}, padding: 7, labelOffset: 1},
          grid: axisGrid(),
          border: {display: false},
          title: {display: withRank, text: 'rank', color: ink, font: {family: sans, size: 17.5}, padding: {top: 0, bottom: 0}}
        }
      }
    },
    plugins: [frame]
  });
}

const fig = document.getElementById('fig');

learningRates.forEach((lr, r) => {
  epochCounts.forEach((E, c) => {
    const px = panelLeft[c], py = panelTop[r];
    const box = document.createElement('div');
    box.className = 'panel';
    box.style.left = px + 'px';
    box.style.top = py + 'px';
    fig.appendChild(box);

    const head = document.createElement('div');
    head.className = 'ptitle';
    head.style.left = px + 'px';
    head.style.top = py + 'px';
    head.textContent = `${model} - ${lr} - ${E}`;
    fig.appendChild(head);

    phases.forEach((phase, p) => {
      const cv = document.createElement('canvas');
      cv.width = 195;
      cv.height = 251;
      cv.style.left = (px + (p === 0 ? 5 : 181)) + 'px';
      cv.style.top = (py + 21) + 'px';
      fig.appendChild(cv);
      drawSubplot(cv, runs[lr][c][p], E, phase, p === 0);
    });
  });
});

// figure legend
const legend = document.createElement('div');
legend.id = 'legend';
fig.appendChild(legend);
const legendRows = [{text: 'order'}]
  .concat(orders.map((o, i) => ({text: o, color: colors[i], dashed: false})))
  .concat([{text: 'metric'}])
  .concat(metrics.map((m, i) => ({text: m, color: '#3b3b3b', dashed: i === 1})));
legendRows.forEach((row, i) => {
  const el = document.createElement('div');
  el.className = 'lrow';
  el.style.top = (1 + i * 24.2) + 'px';
  let html = '';
  if (row.color) {
    html += `<svg width="42" height="6"><line x1="0" y1="3" x2="38" y2="3" stroke="${row.color}" stroke-width="2.6"` +
      (row.dashed ? ' stroke-dasharray="11,4.5"' : '') + '/></svg>';
  }
  html += `<span>${row.text}</span>`;
  el.innerHTML = html;
  legend.appendChild(el);
});
</script>
</body>
</html>
